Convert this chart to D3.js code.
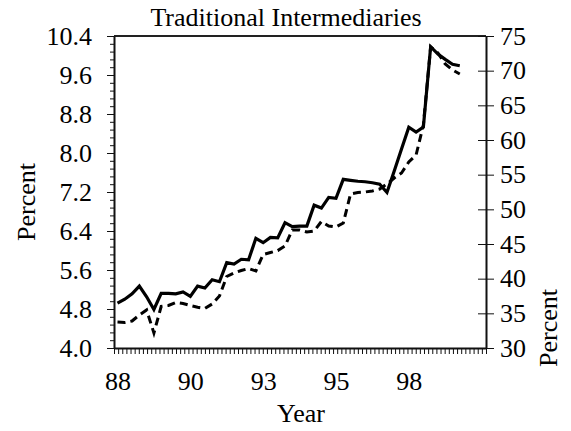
<!DOCTYPE html>
<html>
<head>
<meta charset="utf-8">
<script src="https://cdn.jsdelivr.net/npm/d3@7"></script>
<style>
  html, body { margin: 0; padding: 0; background: #fff; }
  svg { display: block; }
  .axis text { font-family: 'Liberation Serif', 'Times New Roman', serif; font-size: 26px; fill: #000; }
  .axis path, .axis line { stroke: #111; }
  .lbl { font-family: 'Liberation Serif', 'Times New Roman', serif; font-size: 26px; fill: #000; }
</style>
</head>
<body>
<div id="chart"></div>
<script>
// --- Data (quarterly, 1988Q1 .. 1999Q4) ---
const quarters = d3.range(48);            // quarter index from 1988Q1
const xTickIdx = [0, 10, 20, 30, 40];
const xTickLabels = ['88', '90', '93', '95', '98'];

// solid line, left axis (percent)
const solidPct = [
  4.92, 5.00, 5.11, 5.27, 5.05, 4.79, 5.12, 5.12, 5.11, 5.15,
  5.06, 5.27, 5.23, 5.40, 5.36, 5.75, 5.72, 5.82, 5.81, 6.25,
  6.16, 6.27, 6.26, 6.57, 6.49, 6.50, 6.50, 6.93, 6.87, 7.09,
  7.07, 7.46, 7.44, 7.42, 7.41, 7.39, 7.36, 7.19, 7.63, 8.08,
  8.53, 8.43, 8.53, 10.18, 10.03, 9.92, 9.82, 9.79
];

// dashed line, right axis (percent)
const dashedPct = [
  33.75, 33.68, 33.89, 34.76, 35.48, 32.16, 35.99, 36.13, 36.56, 36.42,
  36.13, 35.87, 35.70, 36.35, 37.50, 40.31, 40.82, 41.18, 41.47, 41.11,
  43.49, 43.77, 44.06, 44.71, 47.02, 47.02, 46.73, 46.88, 48.25, 47.60,
  47.45, 48.03, 52.21, 52.43, 52.50, 52.65, 52.93, 53.66, 54.52, 55.24,
  56.83, 57.84, 62.16, 73.42, 72.55, 70.96, 70.10, 69.52
];

const leftTicks = [4.0, 4.8, 5.6, 6.4, 7.2, 8.0, 8.8, 9.6, 10.4];
const rightTicks = [30, 35, 40, 45, 50, 55, 60, 65, 70, 75];

// --- Layout ---
const W = 571, H = 431;
const box = { left: 114, right: 486, top: 36, bottom: 348 };

const svg = d3.select('#chart').append('svg')
  .attr('width', W).attr('height', H);

const x = d3.scaleLinear().domain([-0.48, 50.6]).range([box.left, box.right]);
const yL = d3.scaleLinear().domain([4.0, 10.4]).range([box.bottom, box.top]);
const yR = d3.scaleLinear().domain([30, 75]).range([box.bottom, box.top]);

// top border
svg.append('line')
  .attr('x1', box.left).attr('x2', box.right)
  .attr('y1', box.top).attr('y2', box.top)
  .attr('stroke', '#222').attr('stroke-width', 2);

// left axis: minor then major
const leftMinor = d3.range(4.0, 10.41, 0.16);
svg.append('g').attr('class', 'axis')
  .attr('transform', `translate(${box.left},0)`)
  .call(d3.axisLeft(yL).tickValues(leftMinor).tickSize(4).tickFormat(''))
  .call(g => g.select('.domain').remove());
svg.append('g').attr('class', 'axis')
  .attr('transform', `translate(${box.left},0)`)
  .call(d3.axisLeft(yL).tickValues(leftTicks).tickSize(7).tickSizeOuter(0)
    .tickPadding(15).tickFormat(d3.format('.1f')))
  .call(g => g.select('.domain').attr('stroke-width', 2));

// right axis: ticks cross the line
svg.append('g').attr('class', 'axis')
  .attr('transform', `translate(${box.right},0)`)
  .call(d3.axisLeft(yR).tickValues(rightTicks).tickSize(8).tickFormat(''))
  .call(g => g.select('.domain').remove());
svg.append('g').attr('class', 'axis')
  .attr('transform', `translate(${box.right},0)`)
  .call(d3.axisRight(yR).tickValues(rightTicks).tickSize(8).tickSizeOuter(0)
    .tickPadding(6).tickFormat(d3.format('d')))
  .call(g => g.select('.domain').attr('stroke-width', 2));

// bottom axis: dense minor ticks + labels
const [d0, d1] = x.domain();
const bottomMinor = d3.range(91).map(i => d0 + (d1 - d0) * i / 90);
svg.append('g').attr('class', 'axis')
  .attr('transform', `translate(0,${box.bottom})`)
  .call(d3.axisBottom(x).tickValues(bottomMinor).tickSize(6).tickSizeOuter(0).tickFormat(''))
  .call(g => g.select('.domain').attr('stroke-width', 2));
svg.append('g').attr('class', 'axis')
  .attr('transform', `translate(0,${box.bottom})`)
  .call(d3.axisBottom(x).tickValues(xTickIdx).tickSize(0).tickPadding(24)
    .tickFormat((d, i) => xTickLabels[i]))
  .call(g => g.select('.domain').remove());

// lines
const lineL = d3.line().x((d, i) => x(quarters[i])).y(d => yL(d));
const lineR = d3.line().x((d, i) => x(quarters[i])).y(d => yR(d));

svg.append('path').datum(dashedPct)
  .attr('d', lineR)
  .attr('fill', 'none').attr('stroke', '#000')
  .attr('stroke-width', 3).attr('stroke-dasharray', '8,5');

svg.append('path').datum(solidPct)
  .attr('d', lineL)
  .attr('fill', 'none').attr('stroke', '#000')
  .attr('stroke-width', 3.2).attr('stroke-linejoin', 'miter');

// titles
svg.append('text').attr('class', 'lbl')
  .attr('x', 286).attr('y', 26).attr('text-anchor', 'middle')
  .text('Traditional Intermediaries');
svg.append('text').attr('class', 'lbl')
  .attr('x', 301).attr('y', 422).attr('text-anchor', 'middle')
  .text('Year');
svg.append('text').attr('class', 'lbl')
  .attr('transform', 'translate(35,202) rotate(-90)').attr('text-anchor', 'middle')
  .text('Percent');
svg.append('text').attr('class', 'lbl')
  .attr('transform', 'translate(557,328) rotate(-90)').attr('text-anchor', 'middle')
  .text('Percent');
</script>
</body>
</html>
